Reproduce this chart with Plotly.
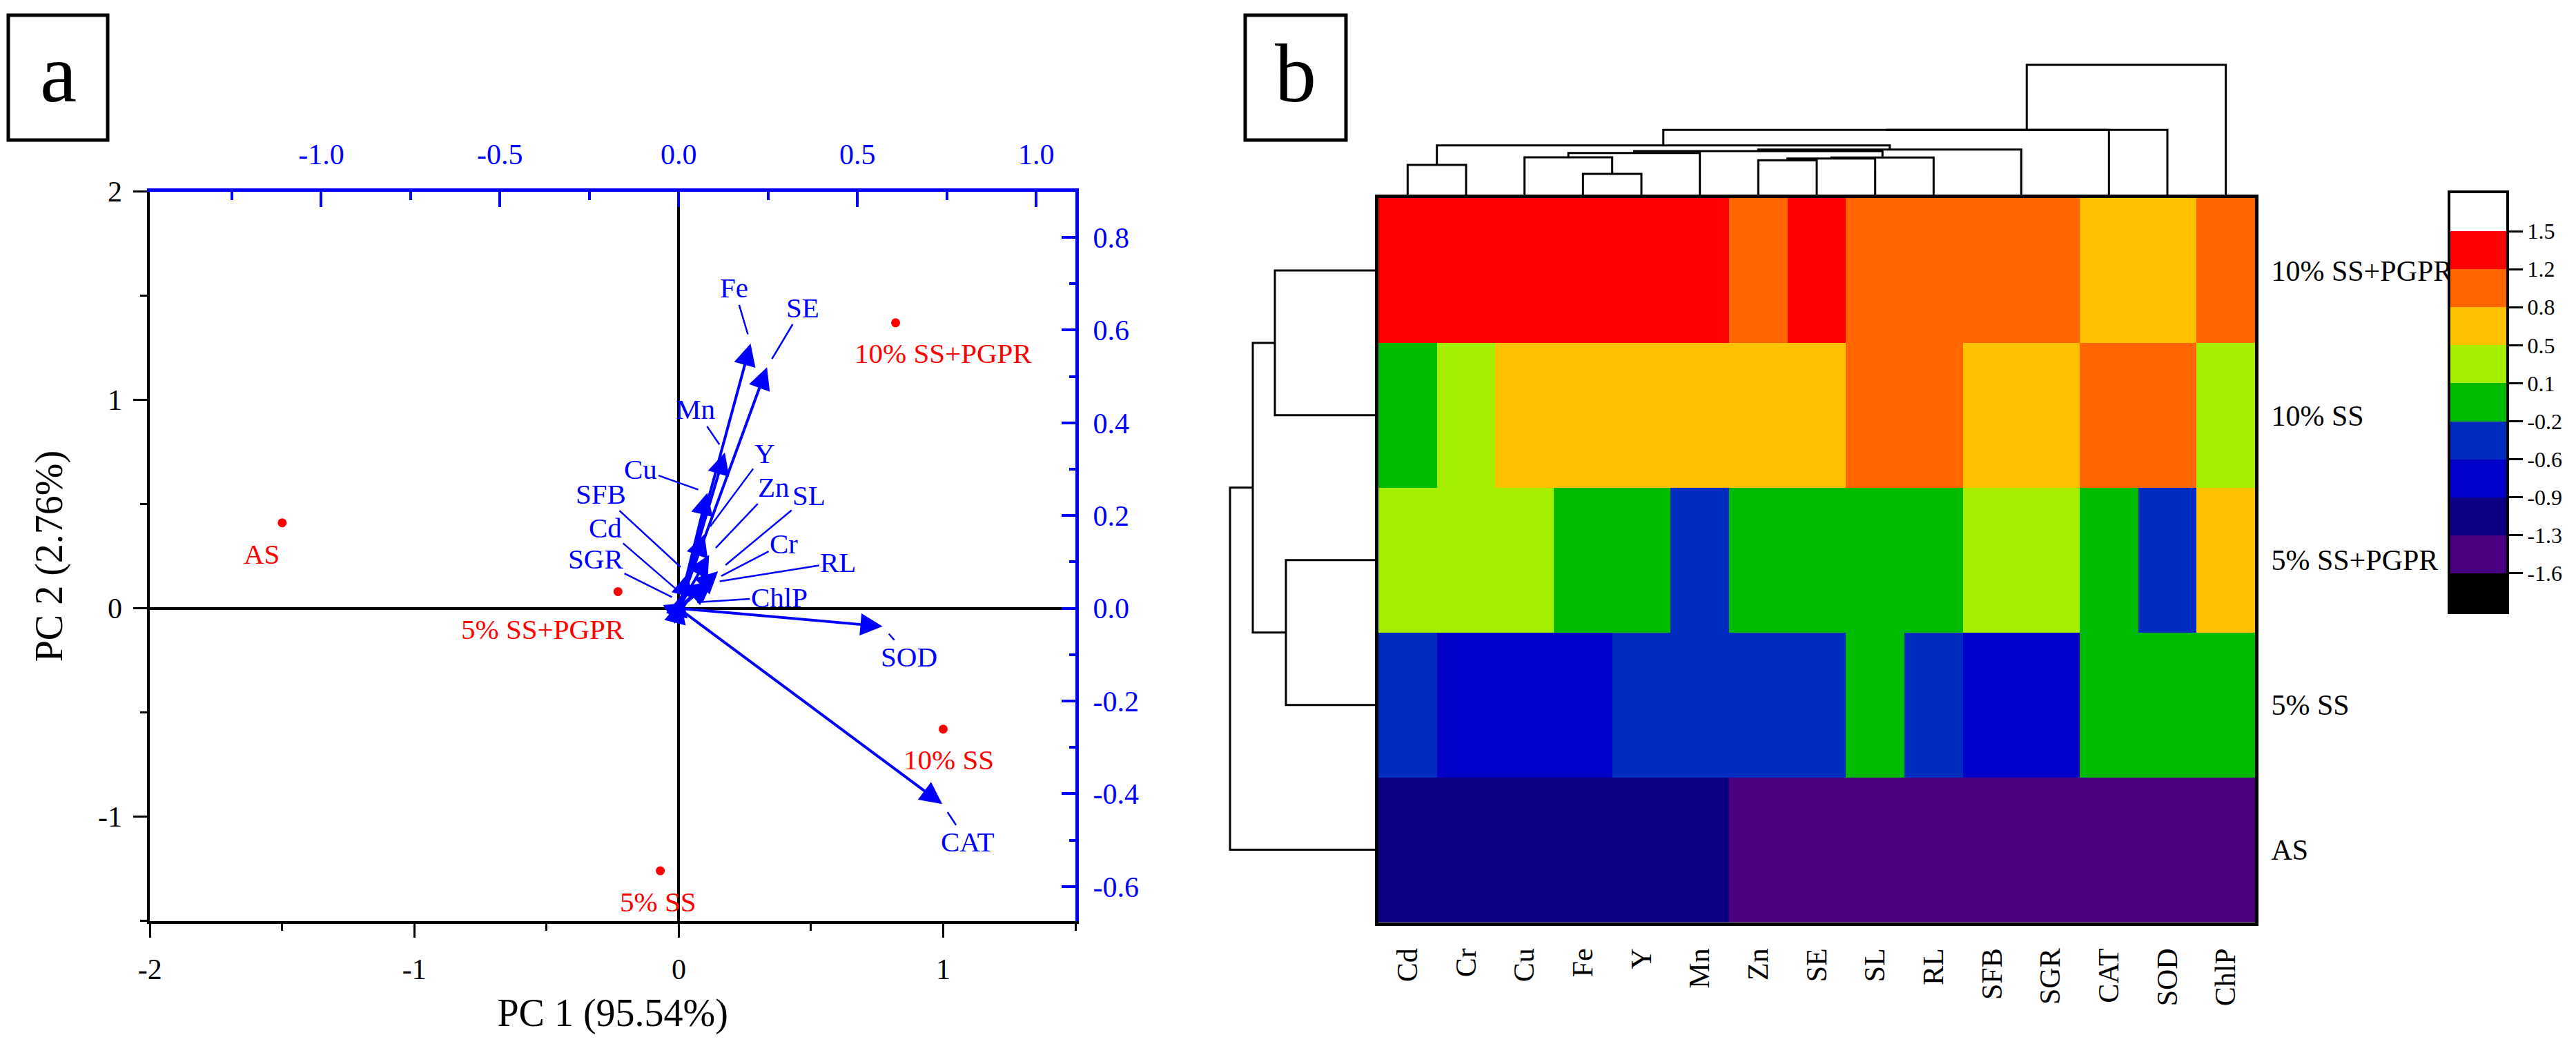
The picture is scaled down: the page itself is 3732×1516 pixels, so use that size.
import plotly.graph_objects as go

W, H = 3732, 1516
FONT = "Liberation Serif"
BLUE = "#0000FF"
RED = "#FF0000"

# ---------------- Panel a : PCA biplot ----------------
samples = ["AS", "5% SS+PGPR", "5% SS", "10% SS", "10% SS+PGPR"]
pc1_scores = [-1.50, -0.23, -0.07, 1.00, 0.82]
pc2_scores = [0.41, 0.08, -1.26, -0.58, 1.37]
sample_label_dx = [-30, -109, -3, 8, 69]
sample_label_dy = [-45, -55, -45, -44, -44]

variables = ["Fe", "SE", "Mn", "Cu", "Y", "Zn", "SL", "Cr", "RL", "SFB", "Cd", "SGR", "ChlP", "SOD", "CAT"]
pc1_loadings = [0.201, 0.247, 0.129, 0.080, 0.072, 0.085, 0.110, 0.095, 0.088, 0.025, 0.010, 0.005, 0.025, 0.570, 0.737]
pc2_loadings = [0.571, 0.520, 0.336, 0.249, 0.160, 0.115, 0.080, 0.060, 0.055, 0.075, 0.030, 0.015, 0.012, -0.039, -0.422]
var_label_x = [0.155, 0.347, 0.047, -0.106, 0.240, 0.266, 0.365, 0.294, 0.446, -0.217, -0.205, -0.232, 0.281, 0.644, 0.807]
var_label_y = [0.691, 0.649, 0.429, 0.300, 0.334, 0.262, 0.243, 0.140, 0.099, 0.247, 0.173, 0.106, 0.024, -0.105, -0.504]

pc1_ticks = [-2, -1, 0, 1]
pc1_ticktext = ["-2", "-1", "0", "1"]
pc2_ticks = [-1, 0, 1, 2]
pc2_ticktext = ["-1", "0", "1", "2"]
load1_ticks = [-1.0, -0.5, 0.0, 0.5, 1.0]
load1_ticktext = ["-1.0", "-0.5", "0.0", "0.5", "1.0"]
load2_ticks = [-0.6, -0.4, -0.2, 0.0, 0.2, 0.4, 0.6, 0.8]
load2_ticktext = ["-0.6", "-0.4", "-0.2", "0.0", "0.2", "0.4", "0.6", "0.8"]

# ---------------- Panel b : heatmap ----------------
hm_cols = ["Cd", "Cr", "Cu", "Fe", "Y", "Mn", "Zn", "SE", "SL", "RL", "SFB", "SGR", "CAT", "SOD", "ChlP"]
hm_rows = ["10% SS+PGPR", "10% SS", "5% SS+PGPR", "5% SS", "AS"]
z_10ss_pgpr = [1.30, 1.35, 1.28, 1.40, 1.32, 1.38, 1.05, 1.25, 1.10, 1.02, 0.98, 0.98, 0.70, 0.66, 1.00]
z_10ss = [-0.02, 0.35, 0.70, 0.62, 0.68, 0.58, 0.78, 0.72, 0.92, 0.95, 0.72, 0.72, 1.05, 1.12, 0.40]
z_5ss_pgpr = [0.30, 0.22, 0.18, -0.05, 0.02, -0.30, 0.05, 0.00, -0.10, 0.05, 0.35, 0.35, 0.00, -0.35, 0.60]
z_5ss = [-0.45, -0.70, -0.72, -0.80, -0.50, -0.45, -0.55, -0.50, -0.15, -0.50, -0.65, -0.65, 0.00, 0.02, -0.12]
z_as = [-1.13, -1.22, -1.20, -1.17, -1.18, -1.21, -1.33, -1.47, -1.40, -1.52, -1.40, -1.40, -1.45, -1.45, -1.50]

band_colors = ["#000000", "#480080", "#0A0080", "#0000C8", "#002DC0", "#00BB00",
               "#A6EE00", "#FFC000", "#FF6600", "#FF0000", "#FFFFFF"]
cb_low, cb_high = -1.6, 1.5
cb_ticktext = ["-1.6", "-1.3", "-0.9", "-0.6", "-0.2", "0.1", "0.5", "0.8", "1.2", "1.5"]

# column dendrogram linkage (leaf ids = column index, new nodes numbered from 15)
col_link_left = [0, 3, 2, 17, 6, 19, 20, 18, 10, 22, 15, 25, 26, 27]
col_link_right = [1, 4, 16, 5, 7, 8, 9, 21, 11, 23, 24, 12, 13, 14]
col_link_height = [4.8, 3.5, 5.9, 6.53, 5.47, 5.73, 5.87, 6.8, 0.0, 7.03, 7.63, 9.87, 9.88, 19.3]
# row dendrogram linkage (leaf ids = row index, new nodes numbered from 5)
row_link_left = [0, 2, 5, 7]
row_link_right = [1, 3, 6, 4]
row_link_height = [15.0, 13.4, 18.2, 21.5]


def dendro_segments(n_leaves, lefts, rights, heights):
    pos = {i: float(i) for i in range(n_leaves)}
    hgt = {i: 0.0 for i in range(n_leaves)}
    p, h = [], []
    for k, (a, b, hh) in enumerate(zip(lefts, rights, heights)):
        node = n_leaves + k
        pa, pb = pos[a], pos[b]
        p += [pa, pa, pb, pb, None]
        h += [hgt[a], hh, hh, hgt[b], None]
        pos[node] = (pa + pb) / 2
        hgt[node] = hh
    return p, h


def fx(px):
    return px / W


def fy(px):
    return 1 - px / H


fig = go.Figure()

# sample scores
fig.add_trace(go.Scatter(
    x=pc1_scores, y=pc2_scores, mode="markers",
    marker=dict(color=RED, size=13), xaxis="x", yaxis="y",
    showlegend=False, hoverinfo="skip"))

annotations = []
for s, x, y, dx, dy in zip(samples, pc1_scores, pc2_scores, sample_label_dx, sample_label_dy):
    annotations.append(dict(x=x, y=y, xref="x", yref="y", text=s, showarrow=False,
                            xshift=dx, yshift=dy, font=dict(family=FONT, size=41, color=RED)))

# loading arrows and labels
for v, lx, ly, tx, ty in zip(variables, pc1_loadings, pc2_loadings, var_label_x, var_label_y):
    annotations.append(dict(x=lx, y=ly, xref="x2", yref="y2", ax=0, ay=0, axref="x2", ayref="y2",
                            text="", showarrow=True, arrowhead=2, arrowsize=1.6, arrowwidth=4,
                            arrowcolor=BLUE, standoff=0, startstandoff=0))
    annotations.append(dict(x=lx, y=ly, xref="x2", yref="y2", ax=tx, ay=ty, axref="x2", ayref="y2",
                            text=v, showarrow=True, arrowhead=0, arrowwidth=2.5, arrowcolor=BLUE,
                            standoff=14, font=dict(family=FONT, size=41, color=BLUE)))

# invisible trace on x2/y2 so overlaying axes render
fig.add_trace(go.Scatter(x=[0], y=[0], mode="markers", marker=dict(size=1, opacity=0),
                         xaxis="x2", yaxis="y2", showlegend=False, hoverinfo="skip"))

# heatmap with discrete colour bands
step = (cb_high - cb_low) / 9
zmin = cb_low - step
zmax = cb_high + step
nb = len(band_colors)
cscale = []
for i, c in enumerate(band_colors):
    cscale.append([i / nb, c])
    cscale.append([(i + 1) / nb, c])
cb_tickvals = [cb_low + k * step for k in range(10)]

fig.add_trace(go.Heatmap(
    z=[z_10ss_pgpr, z_10ss, z_5ss_pgpr, z_5ss, z_as],
    x=list(range(len(hm_cols))), y=list(range(len(hm_rows))),
    zmin=zmin, zmax=zmax, colorscale=cscale, xaxis="x3", yaxis="y3",
    hoverinfo="skip", showscale=False))

# colour key drawn as a one-column heatmap of the band centres
band_centres = [zmin + (k + 0.5) * step for k in range(nb)]
fig.add_trace(go.Heatmap(
    z=[[b] for b in band_centres], x=[0], y=band_centres,
    zmin=zmin, zmax=zmax, colorscale=cscale, xaxis="x6", yaxis="y6",
    hoverinfo="skip", showscale=False))

# column dendrogram
cp, ch = dendro_segments(len(hm_cols), col_link_left, col_link_right, col_link_height)
fig.add_trace(go.Scatter(x=cp, y=ch, mode="lines", line=dict(color="black", width=3),
                         xaxis="x4", yaxis="y4", showlegend=False, hoverinfo="skip"))
# row dendrogram
rp, rh = dendro_segments(len(hm_rows), row_link_left, row_link_right, row_link_height)
fig.add_trace(go.Scatter(x=rh, y=rp, mode="lines", line=dict(color="black", width=3),
                         xaxis="x5", yaxis="y5", showlegend=False, hoverinfo="skip"))

axfont = dict(family=FONT, size=42, color="black")
bluefont = dict(family=FONT, size=42, color=BLUE)

a_dom_x = [fx(217.3), fx(1558)]
a_dom_y = [fy(1334.6), fy(277.5)]

hm_dom_x = [fx(1997), fx(3267)]
hm_dom_y = [fy(1336.5), fy(287)]
col_top_px = 287 - 193 * 1.06
row_left_px = 1997 - 230

fig.update_layout(
    width=W, height=H, margin=dict(l=0, r=0, t=0, b=0, autoexpand=False),
    paper_bgcolor="white", plot_bgcolor="rgba(0,0,0,0)", showlegend=False,
    font=dict(family=FONT),
    xaxis=dict(domain=a_dom_x, range=[-2, 1.5], anchor="y", showgrid=False,
               showline=True, linecolor="black", linewidth=4,
               tickmode="array", tickvals=pc1_ticks, ticktext=pc1_ticktext,
               ticks="outside", ticklen=20, tickwidth=3, tickcolor="black", tickfont=axfont,
               ticklabelstandoff=10,
               minor=dict(tickmode="linear", tick0=0, dtick=0.5, ticks="outside",
                          ticklen=10, tickwidth=3, tickcolor="black", showgrid=False),
               zeroline=True, zerolinecolor="black", zerolinewidth=4,
               title=dict(text="PC 1 (95.54%)", font=dict(family=FONT, size=56, color="black"), standoff=22)),
    yaxis=dict(domain=a_dom_y, range=[-1.5, 2], anchor="x", showgrid=False,
               showline=True, linecolor="black", linewidth=4,
               tickmode="array", tickvals=pc2_ticks, ticktext=pc2_ticktext,
               ticks="outside", ticklen=20, tickwidth=3, tickcolor="black", tickfont=axfont,
               ticklabelstandoff=8,
               minor=dict(tickmode="linear", tick0=0, dtick=0.5, ticks="outside",
                          ticklen=10, tickwidth=3, tickcolor="black", showgrid=False),
               zeroline=True, zerolinecolor="black", zerolinewidth=4,
               title=dict(text="PC 2 (2.76%)", font=dict(family=FONT, size=56, color="black"), standoff=34)),
    xaxis2=dict(overlaying="x", side="top", anchor="y", range=[-1.479, 1.1096], showgrid=False,
                zeroline=False, showline=True, linecolor=BLUE, linewidth=5,
                tickmode="array", tickvals=load1_ticks, ticktext=load1_ticktext,
                ticks="inside", ticklen=22, tickwidth=4, tickcolor=BLUE, tickfont=bluefont,
                ticklabelstandoff=18,
                minor=dict(tickmode="linear", tick0=0, dtick=0.25, ticks="inside",
                           ticklen=12, tickwidth=4, tickcolor=BLUE, showgrid=False)),
    yaxis2=dict(overlaying="y", side="right", anchor="x", range=[-0.674, 0.899], showgrid=False,
                zeroline=False, showline=True, linecolor=BLUE, linewidth=5,
                tickmode="array", tickvals=load2_ticks, ticktext=load2_ticktext,
                ticks="inside", ticklen=20, tickwidth=4, tickcolor=BLUE, tickfont=bluefont,
                ticklabelstandoff=12,
                minor=dict(tickmode="linear", tick0=0, dtick=0.1, ticks="inside",
                           ticklen=9, tickwidth=4, tickcolor=BLUE, showgrid=False)),
    xaxis3=dict(domain=hm_dom_x, anchor="y3", range=[-0.5, len(hm_cols) - 0.5],
                showgrid=False, zeroline=False, showline=True, mirror=True,
                linecolor="black", linewidth=5,
                tickmode="array", tickvals=list(range(len(hm_cols))), ticktext=hm_cols,
                tickangle=-90, ticks="outside", ticklen=16, tickcolor="rgba(0,0,0,0)",
                tickfont=axfont),
    yaxis3=dict(domain=hm_dom_y, anchor="x3", range=[len(hm_rows) - 0.5, -0.5], side="right",
                showgrid=False, zeroline=False, showline=True, mirror=True,
                linecolor="black", linewidth=5,
                tickmode="array", tickvals=list(range(len(hm_rows))), ticktext=hm_rows,
                ticks="outside", ticklen=10, tickcolor="rgba(0,0,0,0)", tickfont=axfont),
    xaxis4=dict(domain=hm_dom_x, anchor="y4", range=[-0.5, len(hm_cols) - 0.5], visible=False),
    yaxis4=dict(domain=[fy(287), fy(col_top_px)], anchor="x4", range=[0, 19.3 * 1.06], visible=False),
    xaxis5=dict(domain=[fx(row_left_px), fx(1997)], anchor="y5", range=[23.0, 0], visible=False),
    yaxis5=dict(domain=hm_dom_y, anchor="x5", range=[len(hm_rows) - 0.5, -0.5], visible=False),
    xaxis6=dict(domain=[fx(3549.5), fx(3631)], anchor="y6", range=[-0.5, 0.5],
                showgrid=False, zeroline=False, showline=True, mirror=True,
                linecolor="black", linewidth=4, showticklabels=False, ticks=""),
    yaxis6=dict(domain=[fy(886), fy(280)], anchor="x6", side="right", range=[zmin, zmax],
                showgrid=False, zeroline=False, showline=True, mirror=True,
                linecolor="black", linewidth=4,
                tickmode="array", tickvals=cb_tickvals, ticktext=cb_ticktext,
                ticks="outside", ticklen=20, tickwidth=3, tickcolor="black",
                tickfont=dict(family=FONT, size=32, color="black")),
    annotations=annotations,
)

# panel letter boxes
for letter, x0, x1 in [("a", 12, 156), ("b", 1804, 1950)]:
    fig.add_shape(type="rect", xref="paper", yref="paper", x0=fx(x0), x1=fx(x1),
                  y0=fy(203), y1=fy(22), line=dict(color="black", width=5), fillcolor="white")
    fig.add_annotation(xref="paper", yref="paper", x=fx((x0 + x1) / 2), y=fy(106),
                       text=letter, showarrow=False, xanchor="center", yanchor="middle",
                       font=dict(family=FONT, size=120, color="black"))

fig.write_html("out.html", config={"displayModeBar": False},
               post_script="document.body.style.margin='0';document.body.style.overflow='hidden';")
